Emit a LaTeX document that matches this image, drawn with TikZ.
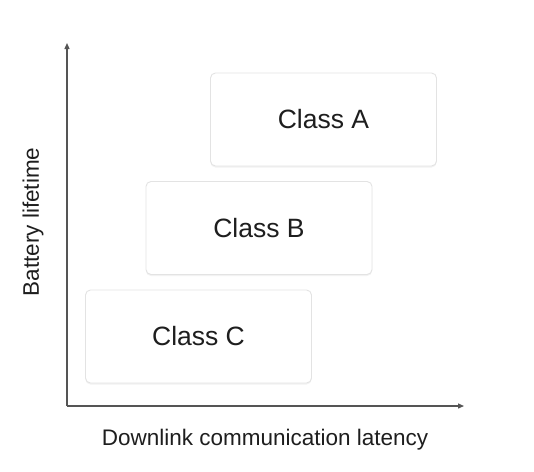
\documentclass[tikz,border=0pt]{standalone}
\usepackage{fontspec}
\setmainfont{Liberation Sans}
\usetikzlibrary{arrows.meta,positioning,shadows}
\definecolor{Ink}{HTML}{1E1E1E}
\definecolor{Axis}{HTML}{555555}
\definecolor{Edge}{HTML}{E3E3E3}
\tikzset{
  classbox/.style={draw=Edge,fill=white,rounded corners=5pt,line width=0.9pt,minimum width=226pt,minimum height=93pt,inner sep=0pt,align=center,text=Ink,font=\fontsize{26.5}{30}\selectfont,drop shadow={opacity=0.10,shadow xshift=0pt,shadow yshift=-1.5pt}},
  axisline/.style={-{Triangle[length=6pt,width=5pt]},draw=Axis,line width=1.3pt},
  axislabel/.style={text=Ink,font=\fontsize{22.5}{26}\selectfont,inner sep=0pt}
}
\begin{document}
\begin{tikzpicture}[x=1pt,y=-1pt]
  \useasboundingbox[fill=white] (0,0) rectangle (534,471);
  % axes
  \coordinate (origin) at (67,406);
  \coordinate (ytop) at (67,43);
  \coordinate (xend) at (464,406);
  \draw[axisline] (origin) -- (ytop);
  \draw[axisline] (origin) -- (xend);
  \node[axislabel] (xlabel) at (265,440) {Downlink communication latency};
  \node[axislabel,rotate=90] (ylabel) at (33,222) {Battery lifetime};
  % classes
  \node[classbox] (classa) at (323.5,119.5) {Class A};
  \node[classbox] (classb) at (259,228) {Class B};
  \node[classbox] (classc) at (198.5,336.5) {Class C};
\end{tikzpicture}
\end{document}
